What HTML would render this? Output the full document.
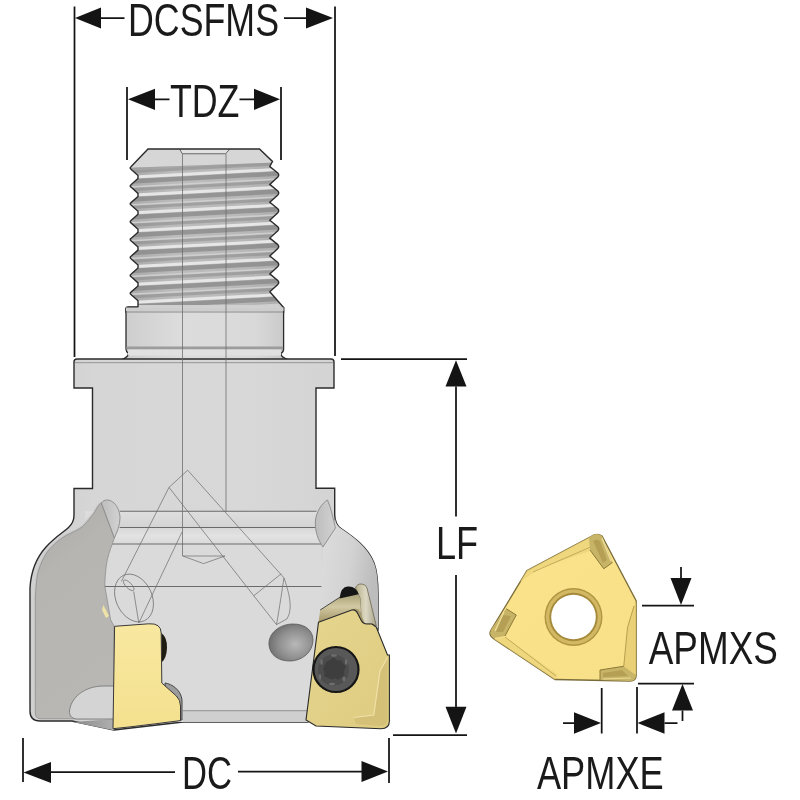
<!DOCTYPE html>
<html><head><meta charset="utf-8">
<style>
html,body{margin:0;padding:0;background:#fff;width:800px;height:800px;overflow:hidden}
svg{display:block}
text{font-family:"Liberation Sans",sans-serif;fill:#1a1a1a}
svg{will-change:transform}
</style></head><body>
<svg width="800" height="800" viewBox="0 0 800 800">

<defs>
  <linearGradient id="gThread" x1="0" x2="1" y1="0" y2="0">
    <stop offset="0" stop-color="#a8a8a8"/><stop offset="0.3" stop-color="#bcbcbc"/>
    <stop offset="0.75" stop-color="#b8b8b8"/><stop offset="1" stop-color="#acacac"/>
  </linearGradient>
  <linearGradient id="gNeck" x1="0" x2="1" y1="0" y2="0">
    <stop offset="0" stop-color="#cdcdcd"/><stop offset="0.35" stop-color="#dcdcdc"/>
    <stop offset="0.8" stop-color="#d9d9d9"/><stop offset="1" stop-color="#c8c8c8"/>
  </linearGradient>
  <linearGradient id="gBody" x1="0" x2="1" y1="0" y2="0">
    <stop offset="0" stop-color="#d0d0d0"/><stop offset="0.2" stop-color="#d6d6d6"/><stop offset="0.6" stop-color="#d8d8d8"/>
    <stop offset="1" stop-color="#d2d2d2"/>
  </linearGradient>
  <clipPath id="cThread"><path d="M148,149 H259.5 L272.5,161.4 L269.8,166.5 L277.8,173 Q279.6,175 277.8,177 L269.8,184.4 L277.8,190.9 Q279.6,192.9 277.8,194.9 L269.8,202.3 L277.8,208.8 Q279.6,210.8 277.8,212.8 L269.8,220.2 L277.8,226.7 Q279.6,228.7 277.8,230.7 L269.8,238.1 L277.8,244.6 Q279.6,246.6 277.8,248.6 L269.8,256 L277.8,262.5 Q279.6,264.5 277.8,266.5 L269.8,273.9 L277.8,280.4 Q279.6,282.4 277.8,284.4 L269.8,291.8 L283.6,307.5 V312 H126 V308 Q126,307 128,307 H138 L138,303.8 L138,300.8 L131,294.5 Q129.4,293.3 131,292.1 L138,285.9 L138,285.9 L138,282.9 L131,276.6 Q129.4,275.4 131,274.2 L138,268 L138,268 L138,265 L131,258.7 Q129.4,257.5 131,256.3 L138,250.1 L138,250.1 L138,247.1 L131,240.8 Q129.4,239.6 131,238.4 L138,232.2 L138,232.2 L138,229.2 L131,222.9 Q129.4,221.7 131,220.5 L138,214.3 L138,214.3 L138,211.3 L131,205 Q129.4,203.8 131,202.6 L138,196.4 L138,196.4 L138,193.4 L131,187.1 Q129.4,185.9 131,184.7 L138,178.5 L138,178.5 L138,175.5 L131,169.2 Q129.4,168 131,166.8 L148,149 Z"/></clipPath>
</defs>
<path d="M148,149 H259.5 L272.5,161.4 L269.8,166.5 L277.8,173 Q279.6,175 277.8,177 L269.8,184.4 L277.8,190.9 Q279.6,192.9 277.8,194.9 L269.8,202.3 L277.8,208.8 Q279.6,210.8 277.8,212.8 L269.8,220.2 L277.8,226.7 Q279.6,228.7 277.8,230.7 L269.8,238.1 L277.8,244.6 Q279.6,246.6 277.8,248.6 L269.8,256 L277.8,262.5 Q279.6,264.5 277.8,266.5 L269.8,273.9 L277.8,280.4 Q279.6,282.4 277.8,284.4 L269.8,291.8 L283.6,307.5 V312 H126 V308 Q126,307 128,307 H138 L138,303.8 L138,300.8 L131,294.5 Q129.4,293.3 131,292.1 L138,285.9 L138,285.9 L138,282.9 L131,276.6 Q129.4,275.4 131,274.2 L138,268 L138,268 L138,265 L131,258.7 Q129.4,257.5 131,256.3 L138,250.1 L138,250.1 L138,247.1 L131,240.8 Q129.4,239.6 131,238.4 L138,232.2 L138,232.2 L138,229.2 L131,222.9 Q129.4,221.7 131,220.5 L138,214.3 L138,214.3 L138,211.3 L131,205 Q129.4,203.8 131,202.6 L138,196.4 L138,196.4 L138,193.4 L131,187.1 Q129.4,185.9 131,184.7 L138,178.5 L138,178.5 L138,175.5 L131,169.2 Q129.4,168 131,166.8 L148,149 Z" fill="url(#gThread)"/>
<g clip-path="url(#cThread)">
  <path d="M125,170.5 L285,162 L285,165 L125,173.5Z" fill="#8a8a8a" opacity="0.55"/><path d="M125,176 L285,167.5 L285,170.5 L125,179Z" fill="#e6e6e6" opacity="1"/><path d="M125,179.5 L285,171 L285,175.5 L125,184Z" fill="#858585" opacity="0.7"/><path d="M125,186.5 L285,178 L285,179.5 L125,188Z" fill="#d2d2d2" opacity="0.9"/><path d="M125,188.4 L285,179.9 L285,182.9 L125,191.4Z" fill="#8a8a8a" opacity="0.55"/><path d="M125,193.9 L285,185.4 L285,188.4 L125,196.9Z" fill="#e6e6e6" opacity="1"/><path d="M125,197.4 L285,188.9 L285,193.4 L125,201.9Z" fill="#858585" opacity="0.7"/><path d="M125,204.4 L285,195.9 L285,197.4 L125,205.9Z" fill="#d2d2d2" opacity="0.9"/><path d="M125,206.3 L285,197.8 L285,200.8 L125,209.3Z" fill="#8a8a8a" opacity="0.55"/><path d="M125,211.8 L285,203.3 L285,206.3 L125,214.8Z" fill="#e6e6e6" opacity="1"/><path d="M125,215.3 L285,206.8 L285,211.3 L125,219.8Z" fill="#858585" opacity="0.7"/><path d="M125,222.3 L285,213.8 L285,215.3 L125,223.8Z" fill="#d2d2d2" opacity="0.9"/><path d="M125,224.2 L285,215.7 L285,218.7 L125,227.2Z" fill="#8a8a8a" opacity="0.55"/><path d="M125,229.7 L285,221.2 L285,224.2 L125,232.7Z" fill="#e6e6e6" opacity="1"/><path d="M125,233.2 L285,224.7 L285,229.2 L125,237.7Z" fill="#858585" opacity="0.7"/><path d="M125,240.2 L285,231.7 L285,233.2 L125,241.7Z" fill="#d2d2d2" opacity="0.9"/><path d="M125,242.1 L285,233.6 L285,236.6 L125,245.1Z" fill="#8a8a8a" opacity="0.55"/><path d="M125,247.6 L285,239.1 L285,242.1 L125,250.6Z" fill="#e6e6e6" opacity="1"/><path d="M125,251.1 L285,242.6 L285,247.1 L125,255.6Z" fill="#858585" opacity="0.7"/><path d="M125,258.1 L285,249.6 L285,251.1 L125,259.6Z" fill="#d2d2d2" opacity="0.9"/><path d="M125,260 L285,251.5 L285,254.5 L125,263Z" fill="#8a8a8a" opacity="0.55"/><path d="M125,265.5 L285,257 L285,260 L125,268.5Z" fill="#e6e6e6" opacity="1"/><path d="M125,269 L285,260.5 L285,265 L125,273.5Z" fill="#858585" opacity="0.7"/><path d="M125,276 L285,267.5 L285,269 L125,277.5Z" fill="#d2d2d2" opacity="0.9"/><path d="M125,277.9 L285,269.4 L285,272.4 L125,280.9Z" fill="#8a8a8a" opacity="0.55"/><path d="M125,283.4 L285,274.9 L285,277.9 L125,286.4Z" fill="#e6e6e6" opacity="1"/><path d="M125,286.9 L285,278.4 L285,282.9 L125,291.4Z" fill="#858585" opacity="0.7"/><path d="M125,293.9 L285,285.4 L285,286.9 L125,295.4Z" fill="#d2d2d2" opacity="0.9"/><path d="M125,295.8 L285,287.3 L285,290.3 L125,298.8Z" fill="#8a8a8a" opacity="0.55"/><path d="M125,301.3 L285,292.8 L285,295.8 L125,304.3Z" fill="#e6e6e6" opacity="1"/><path d="M125,304.8 L285,296.3 L285,300.8 L125,309.3Z" fill="#858585" opacity="0.7"/><path d="M125,311.8 L285,303.3 L285,304.8 L125,313.3Z" fill="#d2d2d2" opacity="0.9"/><path d="M125,313.7 L285,305.2 L285,308.2 L125,316.7Z" fill="#8a8a8a" opacity="0.55"/><path d="M125,319.2 L285,310.7 L285,313.7 L125,322.2Z" fill="#e6e6e6" opacity="1"/><path d="M125,322.7 L285,314.2 L285,318.7 L125,327.2Z" fill="#858585" opacity="0.7"/><path d="M125,329.7 L285,321.2 L285,322.7 L125,331.2Z" fill="#d2d2d2" opacity="0.9"/>
  <path d="M120,148 H290 V162 L120,168 Z" fill="#d6d6d6"/>
  <path d="M120,168 L290,162 L290,164 L120,170 Z" fill="#9a9a9a" opacity="0.6"/>
  <rect x="120" y="305" width="170" height="9" fill="#cfcfcf"/>
  <path d="M179.6,149 L182.3,153.75 H225.6 L229.8,149" fill="#e2e2e2" stroke="#5a5a5a" stroke-width="0.9"/>
</g>
<path d="M148,149 H259.5 L272.5,161.4 L269.8,166.5 L277.8,173 Q279.6,175 277.8,177 L269.8,184.4 L277.8,190.9 Q279.6,192.9 277.8,194.9 L269.8,202.3 L277.8,208.8 Q279.6,210.8 277.8,212.8 L269.8,220.2 L277.8,226.7 Q279.6,228.7 277.8,230.7 L269.8,238.1 L277.8,244.6 Q279.6,246.6 277.8,248.6 L269.8,256 L277.8,262.5 Q279.6,264.5 277.8,266.5 L269.8,273.9 L277.8,280.4 Q279.6,282.4 277.8,284.4 L269.8,291.8 L283.6,307.5 V312 H126 V308 Q126,307 128,307 H138 L138,303.8 L138,300.8 L131,294.5 Q129.4,293.3 131,292.1 L138,285.9 L138,285.9 L138,282.9 L131,276.6 Q129.4,275.4 131,274.2 L138,268 L138,268 L138,265 L131,258.7 Q129.4,257.5 131,256.3 L138,250.1 L138,250.1 L138,247.1 L131,240.8 Q129.4,239.6 131,238.4 L138,232.2 L138,232.2 L138,229.2 L131,222.9 Q129.4,221.7 131,220.5 L138,214.3 L138,214.3 L138,211.3 L131,205 Q129.4,203.8 131,202.6 L138,196.4 L138,196.4 L138,193.4 L131,187.1 Q129.4,185.9 131,184.7 L138,178.5 L138,178.5 L138,175.5 L131,169.2 Q129.4,168 131,166.8 L148,149 Z" fill="none" stroke="#2b2b2b" stroke-width="1.4"/>
<path d="M128,307.5 H281.6 Q283.6,307.5 283.6,309.5 V349 Q283.6,352 281,353.5 Q280.5,357 288,359.5 H121.5 Q128.5,357 128.5,353.5 Q126,352 126,349 V309.5 Q126,307.5 128,307.5 Z" fill="url(#gNeck)"/>
<path d="M138,307.5 H128 Q126,307.5 126,309.5 V349 Q126,352 128.5,353.5 Q128.5,357 121.5,359.5 M283.6,307 V349 Q283.6,352 281,353.5 Q280.5,357 288,359.5" fill="none" stroke="#2b2b2b" stroke-width="1.3"/>
<path d="M126,307.5 H283.6 V311 H126 Z" fill="#cdcdcd"/>
<rect x="126.5" y="311.5" width="156.6" height="1" fill="#8a8a8a"/>
<rect x="126.5" y="346.5" width="156.6" height="3" fill="#9c9c9c"/>
<rect x="128" y="349.5" width="153" height="6" fill="#e0e0e0"/>
<path id="bodyP" d="M77,359 H331 Q334,359 334,362 V388 H316 V488.3 H334.7 V515 C335,522 337,526 341,528.5 C352,536 368,547 374,563 C377,571 378,580 378,595 V630 L330,700 L308,722 H183 L114,730 L72,721 H40 Q30,721 30,711 V588 C31,570 37,557 46,547 C55,537 65,531 68.5,527.5 C72.5,524 74,521 74,515 V488.5 H92.5 V388 H74 V362 Q74,359 77,359 Z" fill="url(#gBody)" stroke="#2b2b2b" stroke-width="1.4"/>
<rect x="75" y="362" width="258" height="1.2" fill="#a0a0a0"/>


<defs>
  <linearGradient id="gPocket" x1="0" x2="1" y1="0" y2="0">
    <stop offset="0" stop-color="#b4b3af"/><stop offset="0.6" stop-color="#b8b7b3"/><stop offset="1" stop-color="#b2b1ad"/>
  </linearGradient>
  <linearGradient id="gIns1" x1="0" x2="0" y1="0" y2="1">
    <stop offset="0" stop-color="#f8e8a0"/><stop offset="1" stop-color="#f4e08e"/>
  </linearGradient>
  <linearGradient id="gIns2" x1="0" x2="1" y1="0" y2="1">
    <stop offset="0" stop-color="#e6d68e"/><stop offset="1" stop-color="#ddcb80"/>
  </linearGradient>
  <radialGradient id="gBall" cx="0.6" cy="0.55" r="0.65">
    <stop offset="0" stop-color="#b8b8b8"/><stop offset="0.6" stop-color="#8e8e8e"/><stop offset="1" stop-color="#6a6a6a"/>
  </radialGradient>
  <linearGradient id="gWedge" x1="0" x2="1" y1="0" y2="0">
    <stop offset="0" stop-color="#8a8a8a"/><stop offset="1" stop-color="#b0b0b0"/>
  </linearGradient>
</defs>
<!-- face bands -->
<defs><linearGradient id="gBand1" x1="0" x2="0" y1="0" y2="1"><stop offset="0" stop-color="#dedede"/><stop offset="1" stop-color="#d4d4d4"/></linearGradient>
<linearGradient id="gBand2" x1="0" x2="0" y1="0" y2="1"><stop offset="0" stop-color="#d8d8d8"/><stop offset="0.5" stop-color="#e2e2e2"/><stop offset="1" stop-color="#dadada"/></linearGradient></defs>
<path d="M119.7,527.5 H316.5 L321,544 L323,586 L320,622 L306,722 H113 V626 L104.8,620 L104,586 L112,544 Z" fill="#dadada"/>
<path d="M85,511.3 H330 V527.5 H85 Z" fill="url(#gBand1)"/>
<path d="M119.7,527.5 H316.5 L321,544 H112 Z" fill="url(#gBand2)"/>
<g stroke="#6a6a6a" stroke-width="1.1" fill="none">
  <path d="M119.7,511.3 H316.5 M119.7,527.5 H316.5 M112,544 H321 M103,586.5 H323"/>
</g>
<!-- right outer region shading -->
<defs><linearGradient id="gROut" x1="0" x2="1" y1="0" y2="0.3"><stop offset="0" stop-color="#dedede"/><stop offset="0.6" stop-color="#d2d2d2"/><stop offset="1" stop-color="#bdbdbd"/></linearGradient></defs>
<path d="M334.7,515 C335,522 337,526 341,528.5 C352,536 368,547 374,563 C377,571 378,580 378,595 V628 L320,622 L323,547 L335.4,528 Z" fill="url(#gROut)"/>
<!-- right lobe -->
<path d="M327.5,500 C322,503 316,512 315.4,521 C315,532 318,540 323,547 L335.4,528 C333,518 331,508 327.5,500 Z" fill="url(#gLobe)" stroke="#8a8a8a" stroke-width="0.9"/>
<!-- left pocket -->
<defs><linearGradient id="gPocketV" x1="0" x2="0.3" y1="0" y2="1"><stop offset="0" stop-color="#a9a9a9"/><stop offset="0.35" stop-color="#b6b5b1"/><stop offset="1" stop-color="#b8b7b3"/></linearGradient>
<linearGradient id="gLobe" x1="0" x2="1" y1="0" y2="0"><stop offset="0" stop-color="#bdbdbd"/><stop offset="1" stop-color="#d2d2d2"/></linearGradient></defs>
<path d="M35.3,600 C36,585 37,575 38,572.5 C41,562 45,555 48.4,550.5 C55,543 60,539 66.3,535.4 C73,532 78,530 82.8,526.5 C88,521 91,517 93.8,513.4 C97,508 99,504 101.3,503" fill="none" stroke="#c9c9c9" stroke-width="3"/>
<path d="M101.3,503 C99,504 97,508 93.8,513.4 C91,517 88,521 82.8,526.5 C78,530 73,532 66.3,535.4 C60,539 55,543 48.4,550.5 C45,555 41,562 38,572.5 C37,575 36,585 35.3,600 V713 Q35.3,718.75 41,718.75 H114 V626 L110.7,620 L104.8,586 C105,575 106,565 107.5,558.8 C109,552 112,545 114.4,538 Z" fill="url(#gPocketV)" stroke="#8e8e8e" stroke-width="0.8"/>
<path d="M101.3,503 C104,499 110,499 114,503 C118,507 120,513 120,518 C120,525 117,532 114.4,538 Z" fill="url(#gLobe)" stroke="#8a8a8a" stroke-width="0.9"/>
<!-- bottom bump & wedge -->
<path d="M72.5,722 L112.5,730 H114 V719 Z" fill="url(#gWedge)"/>
<path d="M69.4,712.5 C70,698 84,686 104,686 H114 V719 H76 Q70,718 69.4,712.5 Z" fill="#d4d4d4" stroke="#7a7a7a" stroke-width="0.9"/>
<!-- face bottom lines -->
<path d="M183,710.8 H309" stroke="#8a8a8a" stroke-width="1.2"/>
<path d="M183,711.5 H309 V722 H183 Z" fill="#cfcfcf"/>
<!-- drill hidden lines -->
<g stroke="#6a6a6a" stroke-width="0.7" fill="none">
  <path d="M182.5,153.75 V556 M226,153.75 V511.3" stroke="#6a6a6a" stroke-width="0.75"/>
  <path d="M169,487.4 L187.7,470.2 L284,577.9 M169,487.4 L253.75,595.75 L281.25,573.75"/>
  <path d="M284,577.9 C288,590 294,608 286.8,619 L276.5,624.6 L253.75,595.75 M284,578 C282,590 280,605 276.5,624.6"/>
  <path d="M182.8,556 H225 L203.5,563.6 Z"/>
  <path d="M169,487.4 L121.4,581.4 M182,532 L138.8,623 M133.7,591.5 L138.8,623"/>
  <ellipse cx="134" cy="598" rx="18" ry="25" transform="rotate(-25 134 598)"/>
  <ellipse cx="128.7" cy="585.3" rx="7" ry="2.8" transform="rotate(45 128.7 585.3)"/>
</g>
<!-- small yellow sliver -->
<path d="M103.4,605 L109,616 L106,618 L102,610 Z" fill="#efe2a6"/>
<!-- left insert -->
<path d="M165,683 C172,684 181,690 182,700 V720 H165 Z" fill="#9c9c9c" stroke="#444" stroke-width="1"/>
<path d="M114.6,626.3 L148.8,623.8 Q161,623 161.2,633 L161.8,683 L176.4,696 Q180.5,700 180.5,706 V720.6 L155.3,723.8 L129,727 L113,728.7 Z" fill="url(#gIns1)" stroke="#3a3a3a" stroke-width="1"/>
<path d="M161.5,633 Q167.5,638 167,648 Q166.5,658 162,662 Z" fill="#1f1d12"/>
<!-- ball -->
<path d="M269,645 C268,633 280,624 293,624 C306,624 313,631 313,640 C313,652 302,661 290,661 C278,661 270,655 269,645 Z" fill="url(#gBall)" stroke="#5a5a5a" stroke-width="0.8"/>
<!-- right insert area -->

<defs><linearGradient id="gRim" x1="0" x2="0" y1="0" y2="1">
<stop offset="0" stop-color="#a89e74"/><stop offset="0.45" stop-color="#d2c9a2"/><stop offset="1" stop-color="#a49668"/></linearGradient>
<linearGradient id="gRim2" x1="0" x2="1" y1="0" y2="0">
<stop offset="0" stop-color="#b9b08a"/><stop offset="0.5" stop-color="#dcd8c4"/><stop offset="1" stop-color="#a8a28a"/></linearGradient></defs>
<path d="M355.5,588 Q357,583.5 362,584 Q366,584.5 367,588 L376.25,625.7 L371.9,624 L365,624 Q361.5,622 361,616 L360,598 Z" fill="url(#gRim2)" stroke="#6e6850" stroke-width="0.8"/>
<path d="M320.2,610 L340.4,596.9 L352,594 Q359,593 360,599 L361,612 L351.75,610 L318.5,622.2 Z" fill="url(#gRim)"/>
<path d="M351.75,610 Q358,606 361,614 L365,624 Q359,623 356,618 Z" fill="#a89c6c"/>
<path d="M339.5,598.6 Q341,586 348.2,586.4 Q356,586 358.7,594.2 Z" fill="#151515"/>
<path d="M318.5,622.2 L351.75,610 Q356,609 358,614 L361,620 Q363,624 367,624 L371.9,624 L376.25,627 L387.5,655 L389.4,655 V721 Q389.4,728.75 381,728.75 L316,726 L306,720 Z" fill="url(#gIns2)" stroke="#2a2a2a" stroke-width="1.1"/>
<path d="M320.2,610 L340.4,596.9" stroke="#3a3a3a" stroke-width="0.9" fill="none"/>
<path d="M353.75,717.5 L373.75,715 L380,671 L387.5,657.5 V718 Q387,726 380,726 L356,724 Z" fill="#d2bd74" opacity="0.8"/>
<path d="M353.75,717.5 L373.75,715 L380,671 L387.5,657.5" stroke="#f0e2a8" stroke-width="1.2" fill="none"/>
<!-- screw -->
<circle cx="336" cy="669.5" r="22.5" fill="#585858" stroke="#161616" stroke-width="2.2"/>
<circle cx="333.5" cy="670" r="15.5" fill="#4c4c4c"/>
<path d="M333.5,657.5 Q337,661 341,660.5 Q344,664 346,667 Q343,670.5 344.5,675 Q341,678 338,680 Q335,677 332,679.5 Q328,678 324,676 Q325.5,672 323,669 Q325,665 326,662 Q330,661 333.5,657.5 Z" fill="#3e3e3e"/>
<g fill="#6e6e6e"><ellipse cx="334" cy="655.5" rx="3" ry="1.2"/><ellipse cx="332" cy="684" rx="3" ry="1.2"/><ellipse cx="346" cy="662" rx="1.2" ry="3"/><ellipse cx="320" cy="677" rx="1.2" ry="3"/><ellipse cx="321.5" cy="662" rx="1.2" ry="3"/><ellipse cx="344" cy="679" rx="1.5" ry="2.5"/></g>


<defs>
  <linearGradient id="gPI" x1="0" x2="1" y1="0" y2="1">
    <stop offset="0" stop-color="#fae38a"/><stop offset="1" stop-color="#f8e088"/>
  </linearGradient>
</defs>
<g>
  <path d="M527,570.6 L591,536.5 Q597,532.5 602,536 L636.25,601 V675 Q636.25,681 630,681 L555,679.5 L494,639 Q488,635 491,630 Z" fill="url(#gPI)" stroke="#7a6c3a" stroke-width="1.3"/>
  <!-- bevel top-left edge -->
  <path d="M527,570.6 L591,536.5 L599,548 L540,568 L520,582 Z" fill="#ecd47c" opacity="0.8"/>
  <path d="M533,572 L593,546" stroke="#b8a050" stroke-width="0.8" fill="none"/>
  <!-- bevel bottom-left edge -->
  <path d="M494,639 L555,679.5 L558,675 L505,637 Z" fill="#ecd47c" opacity="0.8"/>
  <path d="M505,637 L556,676" stroke="#b8a050" stroke-width="0.8" fill="none"/>
  <!-- bevel right -->
  <path d="M636.25,601 V675 L623.75,666.25 L627.5,627.5 L634,606 Z" fill="#e6cc72" opacity="0.8"/>
  <path d="M634,606 L627.5,627.5 L623.75,666.25" stroke="#b09848" stroke-width="0.9" fill="none"/>
  <!-- top notch -->
  <path d="M589,538 Q596,531 602,536 L612.5,562.5 L603.75,568.75 L590,550 Z" fill="#c8b466"/>
  <path d="M593,541 Q597,538 600,541 L607,560 L603,563 Z" fill="#b09a50" opacity="0.8"/>
  <path d="M590,550 L603.75,568.75 L612.5,562.5" stroke="#8e7a38" stroke-width="1" fill="none"/>
  <path d="M602,538 L611,561" stroke="#eadb98" stroke-width="1.4" fill="none"/>
  <!-- left notch -->
  <path d="M506.25,608.75 L516.25,615 L505,636 L494,638 Q488,634 492,628 Z" fill="#c8b466"/>
  <path d="M503,615 L511,616 L503,632 L496,632 Z" fill="#b09a50" opacity="0.8"/>
  <path d="M506.25,608.75 L516.25,615 L505,636" stroke="#8e7a38" stroke-width="1" fill="none"/>
  <path d="M495,631 L504,612" stroke="#eadb98" stroke-width="1.4" fill="none"/>
  <!-- bottom-right notch -->
  <path d="M600,670 L623.75,666.25 L636,675 Q636,681 630,681 L600,680 Z" fill="#c8b466"/>
  <path d="M603,673 L622,670 L628,676 L603,677 Z" fill="#b09a50" opacity="0.8"/>
  <path d="M600,680 V670 L623.75,666.25" stroke="#8e7a38" stroke-width="1" fill="none"/>
  <path d="M603,679 L631,678" stroke="#eadb98" stroke-width="1.2" fill="none"/>
  <!-- hole -->
  <circle cx="573.5" cy="617" r="29" fill="#b09440"/>
  <circle cx="573.5" cy="617" r="27.6" fill="#d2b862"/>
  <circle cx="573.5" cy="617" r="24.2" fill="#a48a3a"/>
  <circle cx="573.5" cy="617" r="22.3" fill="#ffffff"/>
</g>


<g stroke="#141414" stroke-width="1.75" fill="none">
  <path d="M74.5 6.5V357M335 6.5V356M101 18H124.5M284 18H306"/>
  <path d="M127 87V160M281 87V160M155 99.3H169.5M239.5 99.3H254"/>
  <path d="M341 359H467M393 735H467M456 386.5V516.5M456 575V707"/>
  <path d="M23 738V782M389 738V783M51 772H175M238 771.5H362"/>
  <path d="M642 605.6H694M638 683.5H694M681 567V578M682.5 710.5V721"/>
  <path d="M601.7 688V733.5M637 687V733.5M563 723H574M664.5 723H677.5"/>
</g>
<g fill="#141414">
  <path d="M75 18L101 7.6L101 28.4Z"/>
  <path d="M333 18L306 7.6L306 28.4Z"/>
  <path d="M128 99.3L155 88.7L155 109.9Z"/>
  <path d="M280 99.3L254 88.7L254 109.9Z"/>
  <path d="M456 360.3L445.5 386.5L466.5 386.5Z"/>
  <path d="M456 733.5L445.5 706.8L466.5 706.8Z"/>
  <path d="M23.5 772.5L51 762L51 783Z"/>
  <path d="M388 771.5L361.5 761L361.5 782Z"/>
  <path d="M681 605L670.5 578L691.5 578Z"/>
  <path d="M682.5 684L672 710.5L693 710.5Z"/>
  <path d="M601 723L574 712.3L574 733.7Z"/>
  <path d="M637.5 723L664.5 712.3L664.5 733.7Z"/>
</g>

<g font-size="45.6">
  <text x="128" y="36" textLength="151" lengthAdjust="spacingAndGlyphs">DCSFMS</text>
  <text x="169.9" y="117" textLength="69.6" lengthAdjust="spacingAndGlyphs">TDZ</text>
  <text x="436" y="558.7" textLength="42.2" lengthAdjust="spacingAndGlyphs">LF</text>
  <text x="181.9" y="789.4" textLength="50" lengthAdjust="spacingAndGlyphs">DC</text>
  <text x="648.8" y="664.3" textLength="129" lengthAdjust="spacingAndGlyphs">APMXS</text>
  <text x="536.9" y="788.8" textLength="126.8" lengthAdjust="spacingAndGlyphs">APMXE</text>
</g>
</svg>
</body></html>
